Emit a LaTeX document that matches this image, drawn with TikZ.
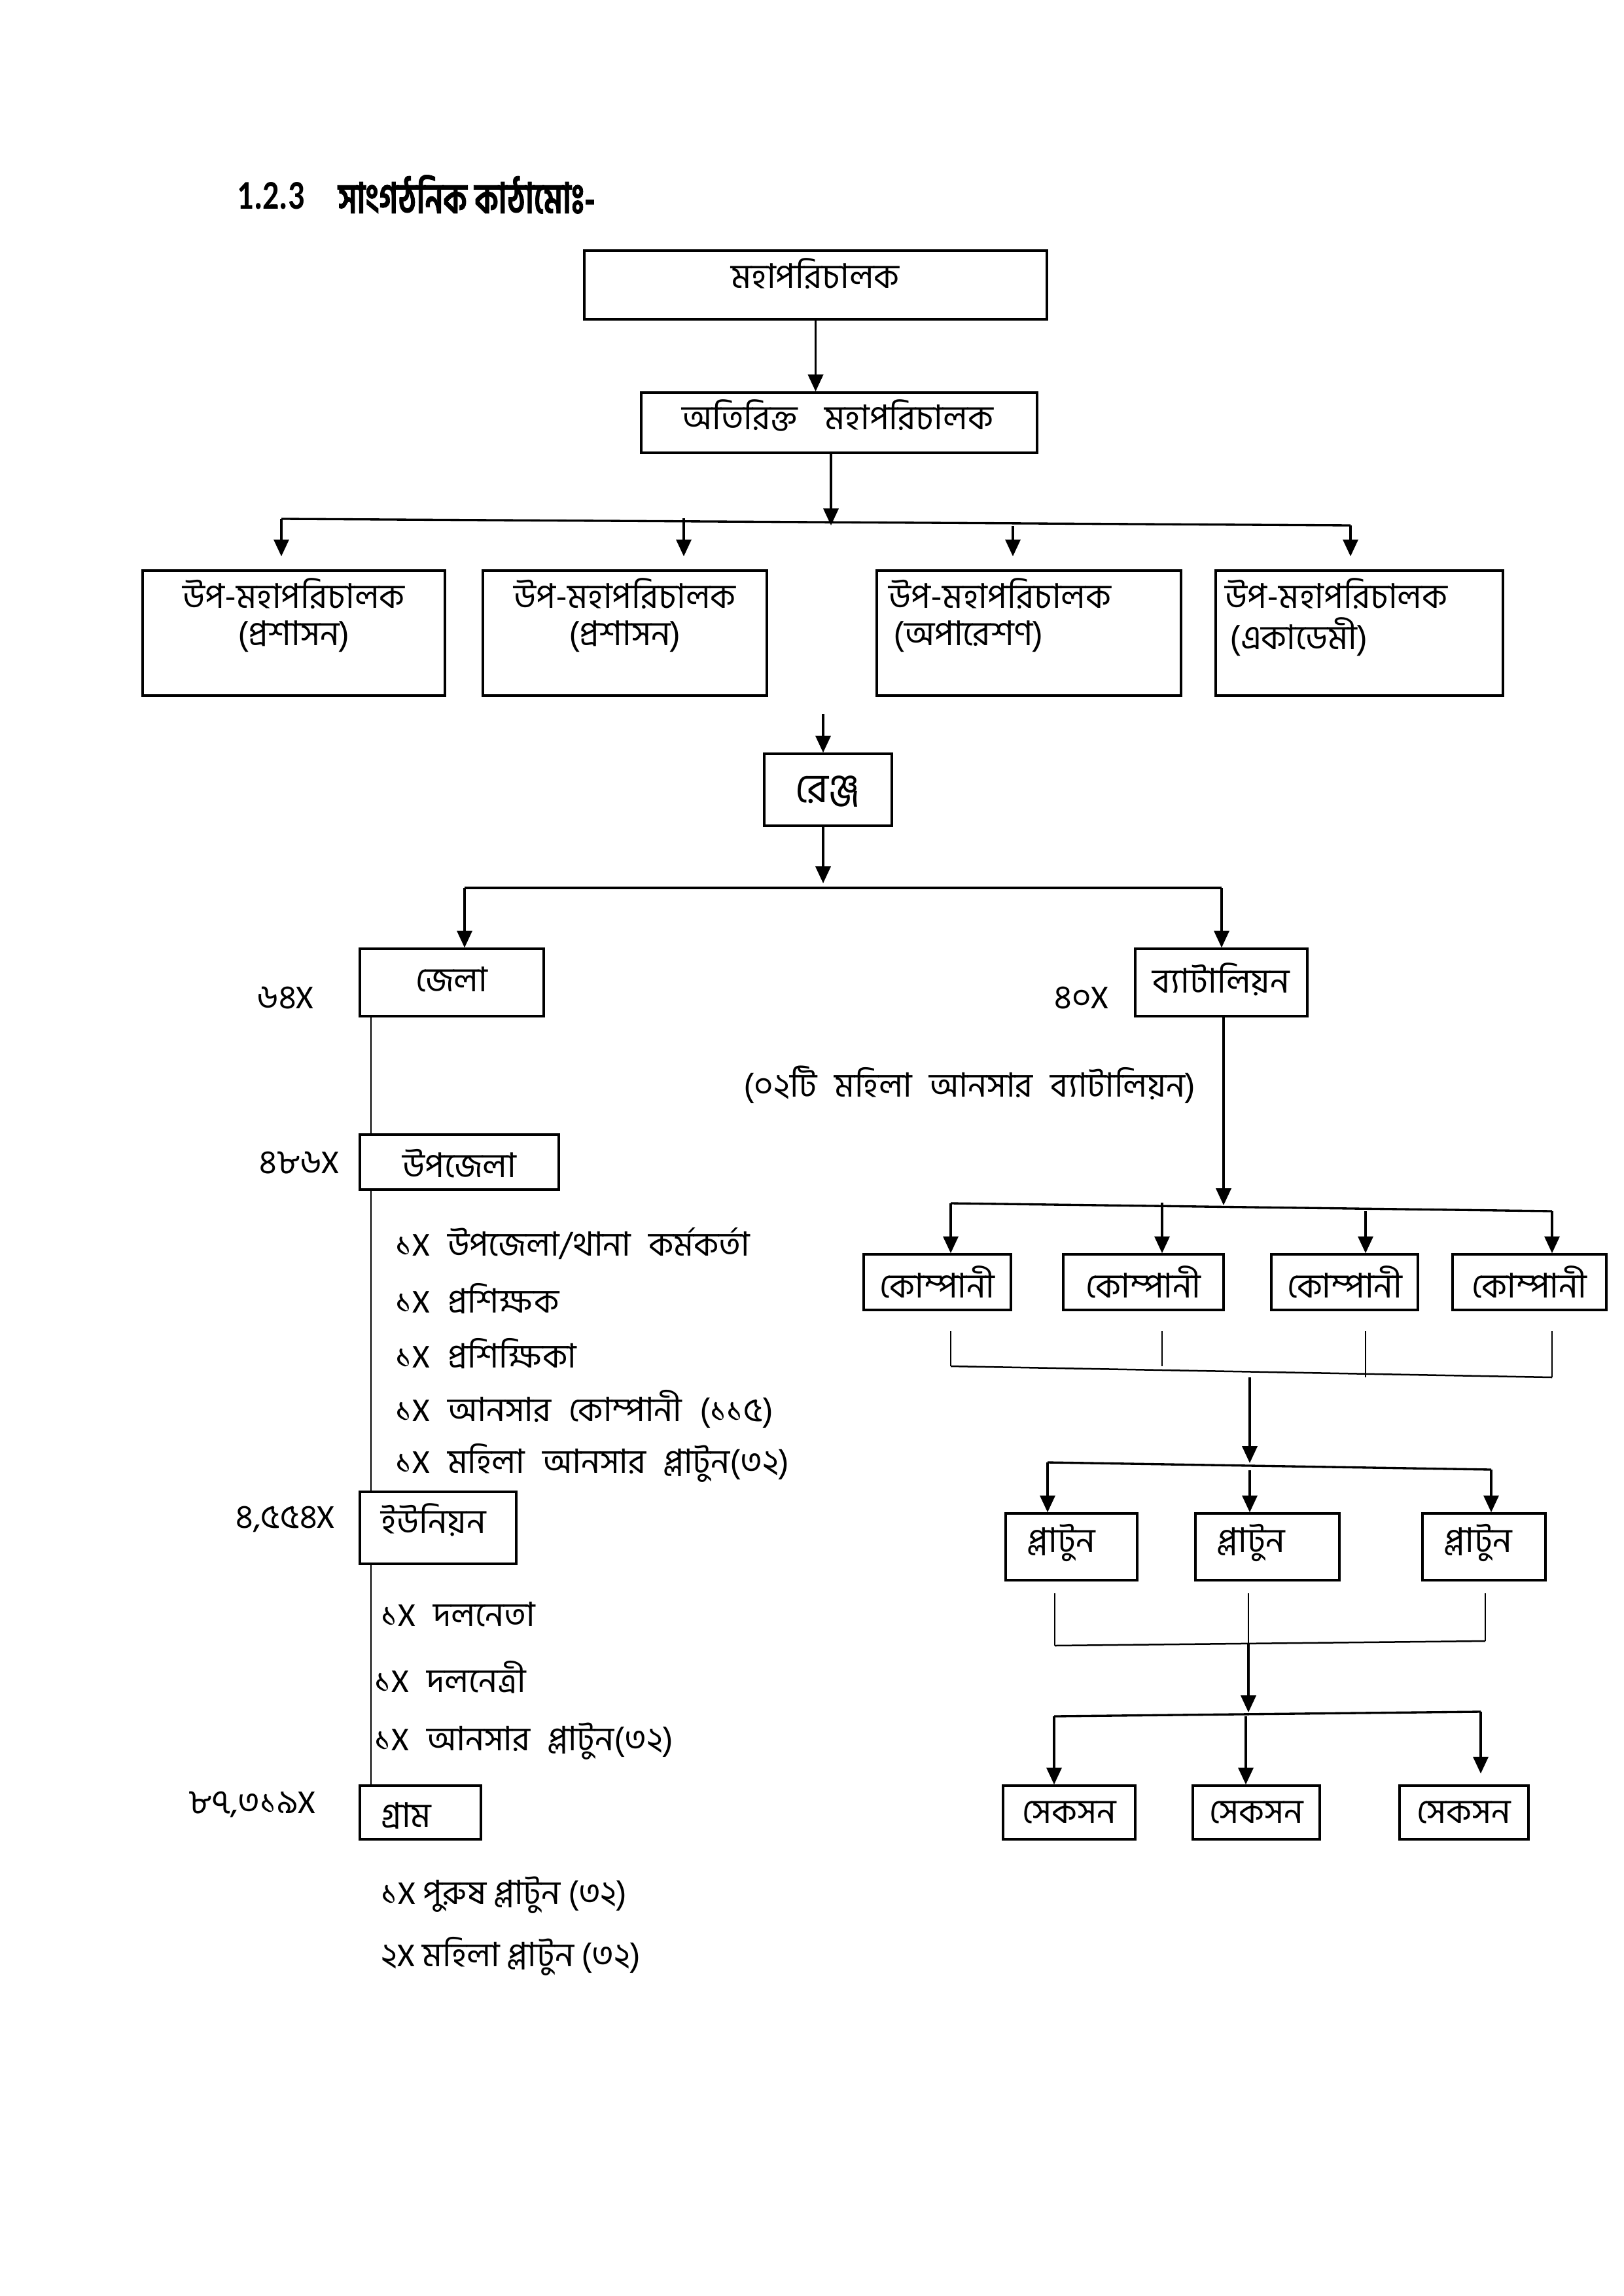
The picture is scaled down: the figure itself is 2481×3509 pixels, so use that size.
\documentclass[tikz,border=0pt]{standalone}
\usepackage{fontspec}
\setmainfont{Carlito}
\newfontfamily\bn[Script=Bengali]{Hind Siliguri}
\newfontfamily\bnt[Script=Bengali, FakeStretch=0.74, BoldFeatures={FakeBold=1.2}]{Hind Siliguri}
\newfontfamily\lat{Carlito}
\newfontfamily\latt[FakeStretch=0.8]{Carlito}
\usetikzlibrary{arrows.meta,fit}
\newcommand\XX{{\lat X}}
\begin{document}
\begin{tikzpicture}[x=0.24pt,y=-0.24pt,
  box/.style={draw, line width=0.8pt, inner sep=0pt},
  arr/.style={line width=0.9pt, -{Triangle[length=6.2pt,width=5.5pt]}},
  ln/.style={line width=0.8pt},
  thinln/.style={line width=0.6pt},
  t/.style={inner sep=0pt, font=\bn\fontsize{12.5}{15}\selectfont},
  li/.style={inner sep=0pt, anchor=west, font=\bn\fontsize{12.3}{15}\selectfont},
  wide/.style={execute at begin node={\spaceskip=6.5pt\relax}},
]
\useasboundingbox (0,0) rectangle (2481,3509);
% title
\node[anchor=west, inner sep=0pt, font=\latt\bfseries\fontsize{15}{18}\selectfont] (ttlnum) at (362,299) {1.2.3};
\node[anchor=west, inner sep=0pt, font=\bnt\bfseries\fontsize{15.5}{18}\selectfont] (ttl) at (516,297) {সাংগঠনিক কাঠামোঃ-};
% boxes
\node[box, fit={(893,383) (1600,488)}] (dg) {};
\node[t] (dgT) at (1246,418) {মহাপরিচালক};
\node[box, fit={(980,600) (1585,692)}] (adg) {};
\node[t] (adgT) at (1280,635) {অতিরিক্ত\hspace{7pt} মহাপরিচালক};
\node[box, fit={(218,872) (680,1063)}] (dd1) {};
\node[t] (dd1a) at (449,907) {উপ-মহাপরিচালক};
\node[t] (dd1b) at (449,973) {(প্রশাসন)};
\node[box, fit={(738,872) (1172,1063)}] (dd2) {};
\node[t] (dd2a) at (955,907) {উপ-মহাপরিচালক};
\node[t] (dd2b) at (955,973) {(প্রশাসন)};
\node[box, fit={(1340,872) (1805,1063)}] (dd3) {};
\node[t, anchor=west] (dd3a) at (1358,907) {উপ-মহাপরিচালক};
\node[t, anchor=west] (dd3b) at (1365,973) {(অপারেশণ)};
\node[box, fit={(1858,872) (2297,1063)}] (dd4) {};
\node[t, anchor=west] (dd4a) at (1872,907) {উপ-মহাপরিচালক};
\node[t, anchor=west] (dd4b) at (1879,973) {(একাডেমী)};
\node[box, fit={(1168,1152) (1363,1262)}] (rng) {};
\node[t, font=\bn\fontsize{15}{18}\selectfont] (rngT) at (1265,1210) {রেঞ্জ};
\node[box, fit={(550,1450) (831,1553)}] (jela) {};
\node[t] (jelaT) at (690,1497) {জেলা};
\node[li] (jelaN) at (392,1525) {৬৪\XX};
\node[box, fit={(1735,1450) (1998,1553)}] (batt) {};
\node[t] (battT) at (1866,1497) {ব্যাটালিয়ন};
\node[li] (battN) at (1611,1525) {৪০\XX};
\node[li, wide] (battNote) at (1136,1658) {(০২টি মহিলা আনসার ব্যাটালিয়ন)};
\node[box, fit={(550,1734) (854,1818)}] (upz) {};
\node[t] (upzT) at (702,1778) {উপজেলা};
\node[li] (upzN) at (396,1777) {৪৮৬\XX};
\node[li, wide] (u1) at (604,1900) {১\XX{} উপজেলা/থানা কর্মকর্তা};
\node[li, wide] (u2) at (604,1985) {১\XX{} প্রশিক্ষক};
\node[li, wide] (u3) at (604,2069) {১\XX{} প্রশিক্ষিকা};
\node[li, wide] (u4) at (604,2153) {১\XX{} আনসার কোম্পানী (১১৫)};
\node[li, wide] (u5) at (604,2236) {১\XX{} মহিলা আনসার প্লাটুন(৩২)};
\node[box, fit={(550,2280) (789,2390)}] (uni) {};
\node[t, anchor=west] (uniT) at (582,2323) {ইউনিয়ন};
\node[li] (uniN) at (360,2322) {৪,৫৫৪\XX};
\node[li, wide] (n1) at (582,2467) {১\XX{} দলনেতা};
\node[li, wide] (n2) at (572,2563) {১\XX{} দলনেত্রী};
\node[li, wide] (n3) at (572,2661) {১\XX{} আনসার প্লাটুন(৩২)};
\node[box, fit={(550,2729) (735,2811)}] (gram) {};
\node[t, anchor=west] (gramT) at (582,2775) {গ্রাম};
\node[li] (gramN) at (288,2758) {৮৭,৩১৯\XX};
\node[li] (g1) at (582,2896) {১\XX{} পুরুষ প্লাটুন (৩২)};
\node[li] (g2) at (582,2990) {২\XX{} মহিলা প্লাটুন (৩২)};
% companies
\node[box, fit={(1320,1917) (1545,2002)}] (k1) {};
\node[box, fit={(1625,1917) (1870,2002)}] (k2) {};
\node[box, fit={(1943,1917) (2167,2002)}] (k3) {};
\node[box, fit={(2220,1917) (2455,2002)}] (k4) {};
\node[t] (k1T) at (k1.center) {কোম্পানী};
\node[t] (k2T) at (k2.center) {কোম্পানী};
\node[t] (k3T) at (k3.center) {কোম্পানী};
\node[t] (k4T) at (k4.center) {কোম্পানী};
% platoons
\node[box, fit={(1537,2313) (1738,2415)}] (p1) {};
\node[box, fit={(1827,2313) (2047,2415)}] (p2) {};
\node[box, fit={(2174,2313) (2362,2415)}] (p3) {};
\node[t, anchor=west] (p1T) at (1570,2358) {প্লাটুন};
\node[t, anchor=west] (p2T) at (1860,2358) {প্লাটুন};
\node[t, anchor=west] (p3T) at (2207,2358) {প্লাটুন};
% sections
\node[box, fit={(1533,2729) (1735,2811)}] (s1) {};
\node[box, fit={(1823,2729) (2017,2811)}] (s2) {};
\node[box, fit={(2139,2729) (2336,2811)}] (s3) {};
\node[t] (s1T) at (s1.center) {সেকসন};
\node[t] (s2T) at (s2.center) {সেকসন};
\node[t] (s3T) at (s3.center) {সেকসন};
% connectors top
\draw[arr] (dg.south) -- (dg.south |- adg.north);
\coordinate (j1) at (1270,803);
\draw[arr] (adg.south -| j1) -- (j1);
\coordinate (b1L) at (430,793);
\coordinate (b1R) at (2064,803);
\coordinate (a2) at (1045,792);
\coordinate (a3) at (1548,804);
\draw[ln] (b1L) -- (b1R);
\draw[arr, shorten >=4.8pt] (b1L) -- (b1L |- dd1.north);
\draw[arr, shorten >=4.8pt] (a2) -- (a2 |- dd2.north);
\draw[arr, shorten >=4.8pt] (a3) -- (a3 |- dd3.north);
\draw[arr, shorten >=4.8pt] (b1R) -- (b1R |- dd4.north);
\coordinate (r0) at (1258,1091);
\draw[arr] (r0) -- (r0 |- rng.north);
\coordinate (j2) at (1258,1350);
\draw[arr] (rng.south -| j2) -- (j2);
\coordinate (b2L) at (710,1357);
\coordinate (b2R) at (1867,1357);
\draw[ln] (b2L) -- (b2R);
\draw[arr] (b2L) -- (b2L |- jela.north);
\draw[arr] (b2R) -- (b2R |- batt.north);
% left spine
\coordinate (vx) at (567,0);
\draw[thinln] (jela.south -| vx) -- (upz.north -| vx);
\draw[thinln] (upz.south -| vx) -- (uni.north -| vx);
\draw[thinln] (uni.south -| vx) -- (gram.north -| vx);
% battalion to companies
\coordinate (j3) at (1870,1842);
\draw[arr] (batt.south -| j3) -- (j3);
\coordinate (b3L) at (1453,1839);
\coordinate (b3R) at (2372,1851);
\coordinate (a6) at (1776,1838);
\coordinate (a7) at (2087,1851);
\draw[ln] (b3L) -- (b3R);
\draw[arr] (b3L) -- (b3L |- k1.north);
\draw[arr] (a6) -- (a6 |- k2.north);
\draw[arr] (a7) -- (a7 |- k3.north);
\draw[arr] (b3R) -- (b3R |- k4.north);
% companies bottom
\coordinate (c1) at (1453,2034); \coordinate (c1e) at (1453,2088);
\coordinate (c2) at (1776,2034); \coordinate (c2e) at (1776,2088);
\coordinate (c3) at (2087,2034); \coordinate (c3e) at (2087,2105);
\coordinate (c4) at (2372,2034); \coordinate (c4e) at (2372,2105);
\draw[thinln] (c1) -- (c1e);
\draw[thinln] (c2) -- (c2e);
\draw[thinln] (c3) -- (c3e);
\draw[thinln] (c4) -- (c4e);
\draw[thinln] (c1e) -- (c4e);
\coordinate (e0) at (1910,2105);
\coordinate (e1) at (1910,2236);
\draw[arr] (e0) -- (e1);
\coordinate (b4L) at (1601,2235);
\coordinate (b4R) at (2279,2246);
\coordinate (a9) at (1910,2247);
\draw[ln] (b4L) -- (b4R);
\draw[arr] (b4L) -- (b4L |- p1.north);
\draw[arr] (a9) -- (a9 |- p2.north);
\draw[arr] (b4R) -- (b4R |- p3.north);
% platoons bottom
\coordinate (q1) at (1612,2435); \coordinate (q1e) at (1612,2515);
\coordinate (q2) at (1908,2435); \coordinate (q2e) at (1908,2512);
\coordinate (q3) at (2270,2435); \coordinate (q3e) at (2270,2508);
\draw[thinln] (q1) -- (q1e);
\draw[thinln] (q2) -- (q2e);
\draw[thinln] (q3) -- (q3e);
\draw[thinln] (q1e) -- (q3e);
\coordinate (f1) at (1908,2617);
\draw[arr] (q2e) -- (f1);
\coordinate (b5L) at (1611,2623);
\coordinate (b5R) at (2263,2616);
\coordinate (a12) at (1904,2623);
\draw[ln] (b5L) -- (b5R);
\draw[arr] (b5L) -- (b5L |- s1.north);
\draw[arr] (a12) -- (a12 |- s2.north);
\draw[arr, shorten >=4pt] (b5R) -- (b5R |- s3.north);
\end{tikzpicture}
\end{document}
